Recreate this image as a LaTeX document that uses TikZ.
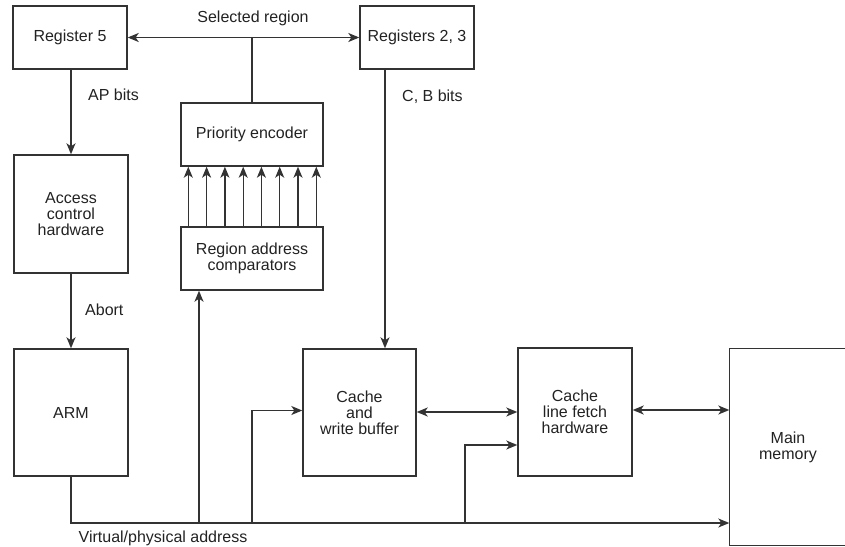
\documentclass[tikz,border=0pt]{standalone}
\usepackage{fontspec}
\setmainfont{Liberation Sans}
\usetikzlibrary{arrows.meta,calc}
\definecolor{ln}{HTML}{333333}
\definecolor{tx}{HTML}{222222}
\begin{document}
\begin{tikzpicture}[x=1pt,y=-1pt,
  box/.style={draw=ln,line width=1.4pt,align=center,inner sep=2pt,text=tx,font=\fontsize{16}{16}\selectfont},
  lbl/.style={text=tx,font=\fontsize{16}{16}\selectfont,inner sep=0pt},
  conn/.style={draw=ln,line width=1.4pt},
  tip/.style={-{Stealth[length=11pt,width=9pt,inset=3pt]}},
  dtip/.style={{Stealth[length=11pt,width=9pt,inset=3pt]}-{Stealth[length=11pt,width=9pt,inset=3pt]}}]
\useasboundingbox (0,0) rectangle (845,546);
% nodes
\node[box,minimum width=114pt,minimum height=63pt] (r5) at (70,37.5) {Register 5};
\node[box,minimum width=114pt,minimum height=63pt] (r23) at (417,37.5) {Registers 2, 3};
\node[box,minimum width=142pt,minimum height=63pt] (pe) at (252,134.5) {Priority encoder};
\node[box,minimum width=142pt,minimum height=63pt] (rac) at (252,258.5) {Region address\\comparators};
\node[box,minimum width=114pt,minimum height=118pt] (ach) at (71,214) {Access\\control\\hardware};
\node[box,minimum width=114pt,minimum height=127pt] (arm) at (71,412.5) {ARM};
\node[box,minimum width=113pt,minimum height=127pt] (cwb) at (359.5,412.5) {Cache\\and\\write buffer};
\node[box,minimum width=114pt,minimum height=128pt] (clf) at (575,412) {Cache\\line fetch\\hardware};
\node[box,draw=none,minimum width=116pt,minimum height=196pt] (mm) at (788,447) {Main\\memory};
\draw[conn] (mm.north east) -- (mm.north west) -- (mm.south west) -- (mm.south east);
% labels
\node[lbl] (lsel) at (253,18) {Selected region};
\node[lbl,anchor=west] (lap) at (88,95) {AP bits};
\node[lbl,anchor=west] (lcb) at (402,97) {C, B bits};
\node[lbl,anchor=west] (lab) at (85,310) {Abort};
\node[lbl] (lva) at (163,538) {Virtual/physical address};
% coordinates on bus
\coordinate (bus) at (71,523);
\coordinate (b1) at (199,523);
\coordinate (b2) at (252,523);
\coordinate (b3) at (465,523);
% connectors
\draw[conn,dtip] (r5) -- (r23);
\draw[conn] (pe.north) -- (pe.north |- r5.east);
\foreach \d in {8,26.3,44.6,62.9,81.1,99.4,117.7,136}{
  \draw[conn,tip] ([xshift=\d pt]rac.north west) -- ([xshift=\d pt]pe.south west);
}
\draw[conn,tip] (r5.south -| ach.north) -- (ach.north);
\draw[conn,tip] (ach) -- (arm);
\draw[conn,tip] (arm.south) -- (bus) -- (bus -| mm.west);
\draw[conn,tip] (b1) -- (b1 |- rac.south);
\draw[conn,tip] (b2) |- ([yshift=2pt]cwb.west);
\draw[conn,tip] (b3) |- ([yshift=-33pt]clf.west);
\draw[conn,tip] ([xshift=-32pt]r23.south) -- ([xshift=-32pt]r23.south |- cwb.north);
\draw[conn,dtip] (cwb.east |- clf.west) -- (clf.west);
\draw[conn,dtip] ([yshift=2pt]clf.east) -- ([yshift=2pt]clf.east -| mm.west);
\end{tikzpicture}
\end{document}
